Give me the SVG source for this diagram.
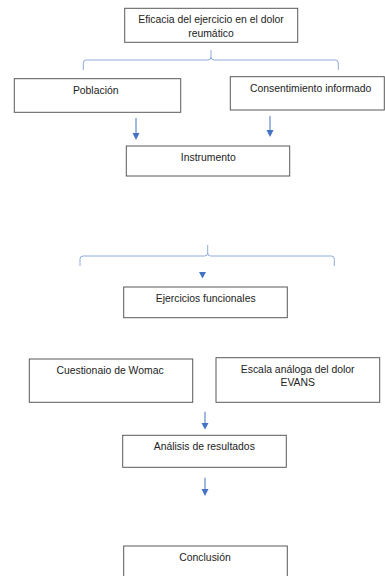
<svg xmlns="http://www.w3.org/2000/svg" width="385" height="576" viewBox="0 0 385 576">
<defs>
<style>
.box{fill:#fff;stroke:#595959;stroke-width:1}
.t{font-family:"Liberation Sans",Arial,sans-serif;font-size:10.4px;fill:#222;text-anchor:middle}
.brace{fill:none;stroke:#8eaadb;stroke-width:1}
.ln{stroke:#4472c4;stroke-width:1;fill:none}
.ah{fill:#4472c4}
</style>
</defs>
<rect width="385" height="576" fill="#fff"/>
<g id="connectors">
<path class="brace" d="M83.3,70 V63 Q83.3,60 86.3,60 H208 Q211,60 211,57 V50 M211,57 Q211,60 214,60 H335.3 Q338.3,60 338.3,63 V70"/>
<path class="ln" d="M136,118 V134"/>
<path class="ah" d="M132.5,133 L139.5,133 L136,140 Z"/>
<path class="ln" d="M270,116 V131"/>
<path class="ah" d="M266.5,130 L273.5,130 L270,137 Z"/>
<path class="brace" d="M80,266 V259 Q80,256 83,256 H204.7 Q207.7,256 207.7,253 V245 M207.7,253 Q207.7,256 210.7,256 H331.3 Q334.3,256 334.3,259 V266"/>
<path class="ah" d="M199,272 L206,272 L202.5,278.5 Z"/>
<path class="ln" d="M205,411.7 V424"/>
<path class="ah" d="M201.5,423 L208.5,423 L205,429.5 Z"/>
<path class="ln" d="M205,477.7 V490"/>
<path class="ah" d="M201.5,489 L208.5,489 L205,496 Z"/>
</g>
<g id="n-eficacia"><rect class="box" x="124.7" y="8.3" width="173" height="34"/><text class="t" x="211" y="23">Eficacia del ejercicio en el dolor</text><text class="t" x="211" y="36.5">reumático</text></g>
<g id="n-poblacion"><rect class="box" x="14.3" y="78.7" width="166.4" height="33.6"/><text class="t" x="95.7" y="93.5">Población</text></g>
<g id="n-consentimiento"><rect class="box" x="230.3" y="76.7" width="154" height="33.3"/><text class="t" x="310.7" y="92">Consentimiento informado</text></g>
<g id="n-instrumento"><rect class="box" x="126.3" y="146" width="163.4" height="30"/><text class="t" x="208.3" y="161">Instrumento</text></g>
<g id="n-ejercicios"><rect class="box" x="123.7" y="287" width="163.6" height="30.7"/><text class="t" x="205.7" y="302.3">Ejercicios funcionales</text></g>
<g id="n-womac"><rect class="box" x="29.3" y="359" width="163.4" height="43.3"/><text class="t" x="110" y="373.5">Cuestionaio de Womac</text></g>
<g id="n-evans"><rect class="box" x="216" y="357.7" width="163.7" height="44.6"/><text class="t" x="297.7" y="372.5">Escala análoga del dolor</text><text class="t" x="297.7" y="386">EVANS</text></g>
<g id="n-analisis"><rect class="box" x="122.7" y="435.3" width="163.6" height="32"/><text class="t" x="204.3" y="450.3">Análisis de resultados</text></g>
<g id="n-conclusion"><rect class="box" x="123.7" y="546" width="163.6" height="34"/><text class="t" x="205" y="561.3">Conclusión</text></g>
</svg>
